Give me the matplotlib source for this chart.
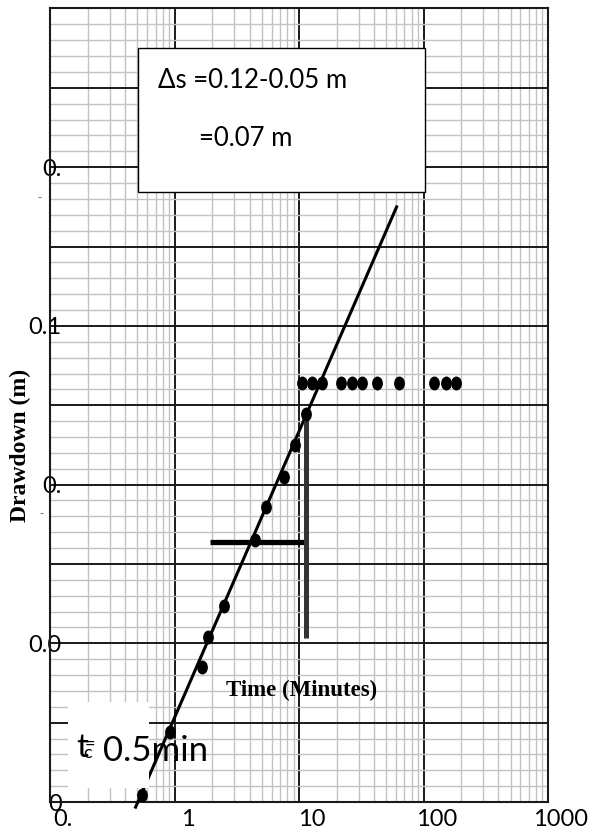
import numpy as np
import matplotlib
matplotlib.use("Agg")
import matplotlib.pyplot as plt
from matplotlib.path import Path
from matplotlib.ticker import MultipleLocator, LogLocator, NullFormatter
from matplotlib.patches import Rectangle
import matplotlib.transforms as mtransforms

# Observed drawdown data (time in minutes, drawdown in m)
time_min = [0.55, 0.92, 1.64, 1.84, 2.47, 4.44, 5.37, 7.54, 9.23, 11.3,
            10.6, 12.6, 15.3, 21.5, 26.7, 31.7, 42.4, 63.3, 122, 152, 183]
drawdown = [0.0018, 0.0176, 0.034, 0.0416, 0.0494, 0.066, 0.0743, 0.0819, 0.090, 0.0978,
            0.1056, 0.1056, 0.1056, 0.1056, 0.1056, 0.1056, 0.1056, 0.1056, 0.1056, 0.1056, 0.1056]

# Straight-line fit (Cooper-Jacob)
fit_time = [0.484, 60.7]
fit_drawdown = [-0.0013, 0.150]

# Construction lines for delta s
hbar_time = [1.93, 11.75]
hbar_drawdown = [0.0656, 0.0656]
vbar_time = [11.4, 11.4]
vbar_drawdown = [0.0413, 0.0971]

xtick_vals = [0.1, 1, 10, 100, 1000]
xtick_labels = ["0.", "1", "10", "100", "1000"]
ytick_vals = [0.0, 0.04, 0.08, 0.12, 0.16]
ytick_labels = ["0", "0.0", "0.", "0.1", "0."]

fig = plt.figure(figsize=(5.95, 8.33), dpi=100)
ax = fig.add_axes([0.0847, 0.0372, 0.8363, 0.9526])
ax.set_xscale("log")
ax.set_xlim(0.1, 1000)
ax.set_ylim(0, 0.2)

# graph paper grid
ax.xaxis.set_major_locator(LogLocator(base=10))
ax.xaxis.set_minor_locator(LogLocator(base=10, subs=np.arange(2, 10)))
ax.xaxis.set_minor_formatter(NullFormatter())
ax.yaxis.set_minor_locator(MultipleLocator(0.004))
ax.grid(which="minor", color="#c2c2c2", lw=1.0)
ax.grid(which="major", color="#1a1a1a", lw=1.4)
ax.set_axisbelow(True)
ax.tick_params(which="both", length=0)

lato = ["Lato", "DejaVu Sans"]

ax.set_xticks(xtick_vals)
ax.set_xticklabels(xtick_labels, family=lato, fontsize=17)
ax.tick_params(axis="x", pad=5)
shift = mtransforms.ScaledTranslation(13 / 100, 0, fig.dpi_scale_trans)
for lab in ax.get_xticklabels():
    lab.set_transform(lab.get_transform() + shift)

ylabels_all = []
for v in np.arange(0, 0.2001, 0.02):
    lbl = ""
    for tv, tl in zip(ytick_vals, ytick_labels):
        if abs(tv - v) < 1e-6:
            lbl = tl
    ylabels_all.append(lbl)
ax.set_yticks(np.arange(0, 0.2001, 0.02))
ax.set_yticklabels(ylabels_all, family=lato, fontsize=17)
ax.tick_params(axis="y", pad=-8)

for sp in ax.spines.values():
    sp.set_color("#1a1a1a")
    sp.set_linewidth(1.5)

# fitted line
ax.plot(fit_time, fit_drawdown, color="black", lw=2.2, clip_on=False, zorder=3)

# data points as upright ellipses
circ = Path.unit_circle()
ell = Path(circ.vertices * np.array([0.75, 1.0]), circ.codes)
ax.plot(time_min, drawdown, ls="none", marker=ell, ms=9, color="black", zorder=4)

# delta s construction
ax.plot(hbar_time, hbar_drawdown, color="black", lw=3.8, solid_capstyle="butt", zorder=3)
ax.plot(vbar_time, vbar_drawdown, color="#333333", lw=3.6, solid_capstyle="butt", zorder=3)

# delta s box
ax.add_patch(Rectangle((0.176, 0.769), 0.577, 0.181, transform=ax.transAxes,
                       facecolor="white", edgecolor="black", lw=1.0, zorder=5))
ax.text(0.216, 0.909, "\u0394s =0.12-0.05 m", transform=ax.transAxes, family=lato,
        fontsize=18.5, va="center", ha="left", zorder=6)
ax.text(0.298, 0.836, "=0.07 m", transform=ax.transAxes, family=lato,
        fontsize=18.5, va="center", ha="left", zorder=6)

# t0 box
ax.add_patch(Rectangle((0.036, 0.0176), 0.163, 0.1084, transform=ax.transAxes,
                       facecolor="white", edgecolor="none", zorder=5))
ax.text(0.052, 0.068, "t", transform=ax.transAxes, family=lato, fontsize=24,
        va="center", ha="left", zorder=6)
ax.text(0.066, 0.062, "c", transform=ax.transAxes, family=lato, fontsize=13,
        va="center", ha="left", zorder=6)
ax.text(0.069, 0.073, "=", transform=ax.transAxes, family=lato, fontsize=13,
        va="center", ha="left", zorder=6)
ax.text(0.106, 0.064, "0.5min", transform=ax.transAxes, family=lato, fontsize=25,
        va="center", ha="left", zorder=6)

# axis titles placed inside the chart as in the original
ax.text(0.504, 0.141, "Time (Minutes)", transform=ax.transAxes,
        family="Liberation Serif", fontweight="bold", fontsize=16.5,
        va="center", ha="center", zorder=6)
fig.text(0.034, 0.465, "Drawdown (m)", family="Liberation Serif", fontweight="bold",
         fontsize=17, rotation=90, va="center", ha="center")

# small stray dashes next to the labels
fig.text(0.066, 1 - 197 / 833, "-", fontsize=8, color="#555555", ha="center", va="center")
fig.text(0.069, 1 - 513 / 833, "-", fontsize=8, color="#555555", ha="center", va="center")

fig.savefig("out.png", dpi=100)
